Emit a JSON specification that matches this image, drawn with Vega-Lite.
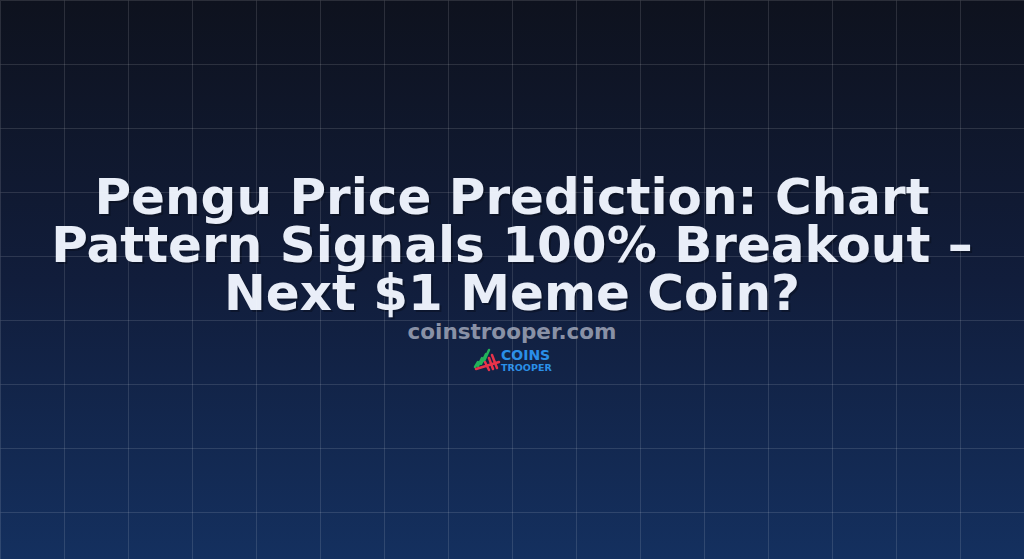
{
  "$schema": "https://vega.github.io/schema/vega-lite/v6.json",
  "width": 1024,
  "height": 559,
  "padding": 0,
  "autosize": {"type": "fit", "contains": "padding"},
  "background": "#0e121e",
  "datasets": {
    "bg": [{"x": 0, "x2": 1024, "y": 0, "y2": 559}],
    "title": [{"label": "Pengu Price Prediction: Chart\nPattern Signals 100% Breakout –\nNext $1 Meme Coin?"}],
    "site": [{"label": "coinstrooper.com"}],
    "icon": [
      {"part": "green", "x": 475, "y": 367, "x2": 478, "y2": 362},
      {"part": "green", "x": 478, "y": 366, "x2": 482, "y2": 358},
      {"part": "green", "x": 481, "y": 364, "x2": 486, "y2": 354},
      {"part": "green", "x": 484, "y": 361, "x2": 489, "y2": 350},
      {"part": "red", "x": 476, "y": 369, "x2": 499, "y2": 362},
      {"part": "red", "x": 485, "y": 362, "x2": 489, "y2": 370},
      {"part": "red", "x": 489, "y": 358, "x2": 493, "y2": 369},
      {"part": "red", "x": 492, "y": 355, "x2": 497, "y2": 368}
    ]
  },
  "encoding": {
    "x": {
      "type": "quantitative",
      "scale": {"domain": [0, 1024], "nice": false, "zero": false},
      "axis": {
        "values": [0, 64, 128, 192, 256, 320, 384, 448, 512, 576, 640, 704, 768, 832, 896, 960, 1024],
        "grid": true, "gridColor": "#ffffff", "gridOpacity": 0.12, "gridWidth": 1,
        "domain": false, "ticks": false, "labels": false, "title": null, "zindex": 1
      }
    },
    "y": {
      "type": "quantitative",
      "scale": {"domain": [0, 559], "nice": false, "zero": false, "reverse": true},
      "axis": {
        "values": [0, 64, 128, 192, 256, 320, 384, 448, 512],
        "grid": true, "gridColor": "#ffffff", "gridOpacity": 0.12, "gridWidth": 1,
        "domain": false, "ticks": false, "labels": false, "title": null, "zindex": 1
      }
    }
  },
  "layer": [
    {
      "data": {"name": "bg"},
      "mark": {
        "type": "rect",
        "color": {
          "gradient": "linear", "x1": 0, "y1": 0, "x2": 0, "y2": 1,
          "stops": [
            {"offset": 0, "color": "#0e121e"},
            {"offset": 0.5, "color": "#111d3b"},
            {"offset": 1, "color": "#14305f"}
          ]
        }
      },
      "encoding": {
        "x": {"field": "x"}, "x2": {"field": "x2"},
        "y": {"field": "y"}, "y2": {"field": "y2"}
      }
    },
    {
      "data": {"name": "title"},
      "mark": {
        "type": "text", "lineBreak": "\n", "align": "center", "baseline": "alphabetic",
        "font": "DejaVu Sans", "fontWeight": "bold", "fontSize": 50, "lineHeight": 48,
        "color": "#05080f", "opacity": 0.35, "dx": 2, "dy": 2
      },
      "encoding": {"x": {"datum": 512}, "y": {"datum": 214}, "text": {"field": "label"}}
    },
    {
      "data": {"name": "title"},
      "mark": {
        "type": "text", "lineBreak": "\n", "align": "center", "baseline": "alphabetic",
        "font": "DejaVu Sans", "fontWeight": "bold", "fontSize": 50, "lineHeight": 48,
        "color": "#e9eef8"
      },
      "encoding": {"x": {"datum": 512}, "y": {"datum": 214}, "text": {"field": "label"}}
    },
    {
      "data": {"name": "site"},
      "mark": {
        "type": "text", "align": "center", "baseline": "alphabetic",
        "font": "DejaVu Sans", "fontWeight": "bold", "fontSize": 21.5,
        "color": "#8991a6"
      },
      "encoding": {"x": {"datum": 512}, "y": {"datum": 339}, "text": {"field": "label"}}
    },
    {
      "data": {"name": "icon"},
      "mark": {"type": "rule", "strokeWidth": 2.5, "strokeCap": "round"},
      "encoding": {
        "x": {"field": "x"}, "x2": {"field": "x2"},
        "y": {"field": "y"}, "y2": {"field": "y2"},
        "color": {"field": "part", "type": "nominal", "scale": {"domain": ["green", "red"], "range": ["#22b35a", "#e8334a"]}, "legend": null}
      }
    },
    {
      "data": {"values": [{"label": "COINS"}]},
      "mark": {
        "type": "text", "align": "left", "baseline": "alphabetic",
        "font": "DejaVu Sans", "fontWeight": "bold", "fontSize": 14,
        "color": "#2a8fe8"
      },
      "encoding": {"x": {"datum": 501}, "y": {"datum": 360}, "text": {"field": "label"}}
    },
    {
      "data": {"values": [{"label": "TROOPER"}]},
      "mark": {
        "type": "text", "align": "left", "baseline": "alphabetic",
        "font": "DejaVu Sans", "fontWeight": "bold", "fontSize": 9.5,
        "color": "#2a8fe8"
      },
      "encoding": {"x": {"datum": 501}, "y": {"datum": 371}, "text": {"field": "label"}}
    }
  ],
  "config": {"view": {"stroke": null}}
}
